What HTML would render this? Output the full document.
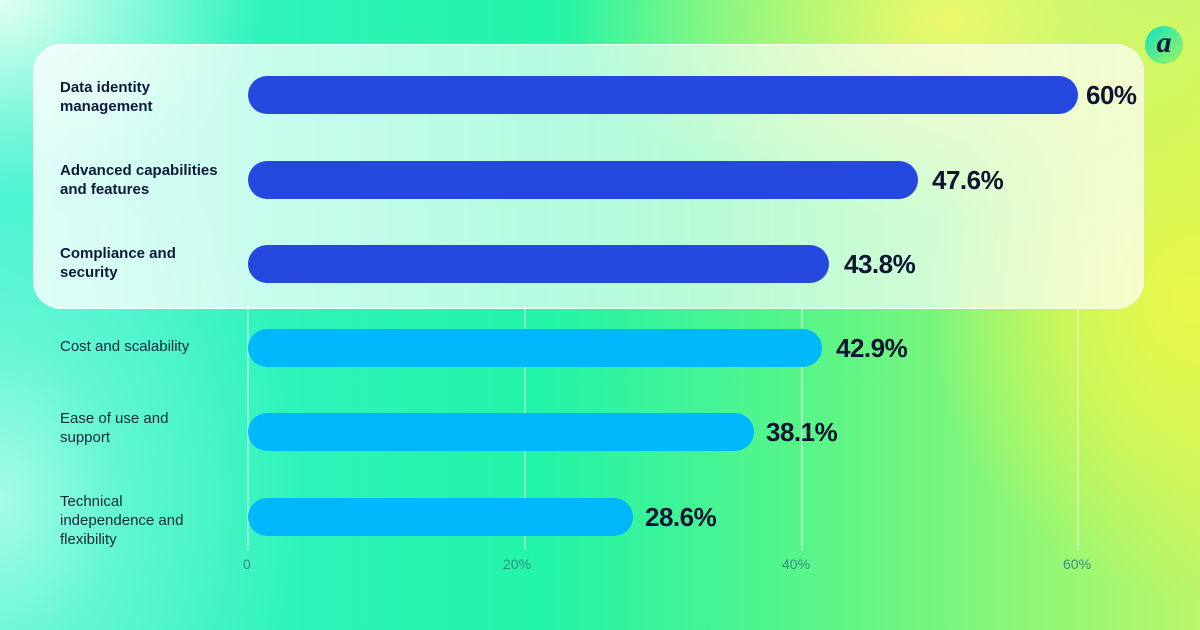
<!DOCTYPE html>
<html><head><meta charset="utf-8"><style>
*{margin:0;padding:0;box-sizing:border-box}
body{width:1200px;height:630px;overflow:hidden;position:relative;font-family:"Liberation Sans",sans-serif;
background:
radial-gradient(ellipse 260px 300px at 1190px 300px,#eaf74a 0%,rgba(234,247,74,0.6) 50%,rgba(234,247,74,0) 100%),
radial-gradient(ellipse 380px 200px at 950px 20px,#eef86a 0%,rgba(238,248,106,0) 100%),
radial-gradient(ellipse 300px 400px at 0px 500px,#a6fbe6 0%,rgba(140,250,220,0.5) 40%,rgba(60,245,200,0) 100%),
radial-gradient(ellipse 260px 200px at 0px 0px,#e0fff0 0%,rgba(220,255,240,0) 100%),
linear-gradient(90deg,#3df2cf 0%,#22f4a8 45%,#5ff585 70%,#b9f66a 100%);}
.panel{position:absolute;left:33px;top:44px;width:1111px;height:265px;border-radius:28px;background:linear-gradient(90deg,rgba(255,255,255,0.8),rgba(255,255,255,0.62) 60%,rgba(255,255,255,0.7));border:1px solid rgba(255,255,255,0.8)}
.grid{position:absolute;top:305px;height:245px;width:1.5px;background:rgba(255,255,255,0.4)}
.bar{position:absolute;left:248px;height:38px;border-radius:19px}
.lbl{position:absolute;left:60px;font-size:15px;line-height:19px;color:#0f2a3a}
.b{font-weight:bold;color:#0d1a3a}
.val{position:absolute;font-size:26px;font-weight:bold;color:#0d1533;letter-spacing:-0.5px}
.tick{position:absolute;top:556px;font-size:14px;color:#3a8a85}
</style></head><body>
<div class="grid" style="left:247px"></div>
<div class="grid" style="left:524px"></div>
<div class="grid" style="left:801px"></div>
<div class="grid" style="left:1077px"></div>
<div class="panel"></div>
<div class="bar" style="top:76px;width:830px;background:#2549de"></div>
<div class="bar" style="top:161px;width:670px;background:#2549de"></div>
<div class="bar" style="top:245px;width:581px;background:#2549de"></div>
<div class="bar" style="top:329px;width:574px;background:#00b8fb"></div>
<div class="bar" style="top:413px;width:506px;background:#00b8fb"></div>
<div class="bar" style="top:498px;width:385px;background:#00b8fb"></div>
<div class="lbl b" style="top:78px">Data identity<br>management</div>
<div class="lbl b" style="top:161px">Advanced capabilities<br>and features</div>
<div class="lbl b" style="top:244px">Compliance and<br>security</div>
<div class="lbl" style="top:337px">Cost and scalability</div>
<div class="lbl" style="top:409px">Ease of use and<br>support</div>
<div class="lbl" style="top:492px">Technical<br>independence and<br>flexibility</div>
<div class="val" style="left:1086px;top:80px">60%</div>
<div class="val" style="left:932px;top:165px">47.6%</div>
<div class="val" style="left:844px;top:249px">43.8%</div>
<div class="val" style="left:836px;top:333px">42.9%</div>
<div class="val" style="left:766px;top:417px">38.1%</div>
<div class="val" style="left:645px;top:502px">28.6%</div>
<div class="tick" style="left:243px">0</div>
<div class="tick" style="left:503px">20%</div>
<div class="tick" style="left:782px">40%</div>
<div class="tick" style="left:1063px">60%</div>
<div style="position:absolute;left:1145px;top:26px;width:38px;height:38px;border-radius:50%;background:linear-gradient(135deg,#10e0c0,#9ff560);color:#101a3a;font:italic bold 30px/34px 'Liberation Serif',serif;text-align:center">a</div>
</body></html>
